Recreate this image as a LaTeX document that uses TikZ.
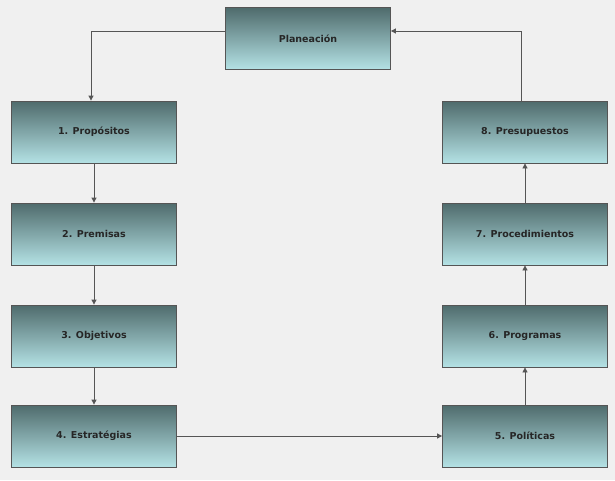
\documentclass[tikz,border=0pt]{standalone}
\usepackage{fontspec}
\setmainfont{DejaVu Sans}
\usetikzlibrary{arrows.meta}
\definecolor{bg}{HTML}{F0F0F0}
\definecolor{topc}{HTML}{4F6B6C}
\definecolor{botc}{HTML}{B4E2E5}
\definecolor{ln}{HTML}{555555}
\begin{document}
\begin{tikzpicture}[x=1pt,y=-1pt,
  box/.style={draw=ln,line width=0.8pt,top color=topc,bottom color=botc,minimum width=165pt,minimum height=62pt,font=\bfseries\fontsize{9.5}{11}\selectfont,text=black!85},
  arr/.style={draw=ln,line width=0.8pt,-{Triangle[length=5pt,width=5pt]}}]
\fill[bg] (0,0) rectangle (615,480);
\node[box] (p) at (308,38.5) {Planeación};
\node[box] (a1) at (94,132) {1. Propósitos};
\node[box] (a2) at (94,234) {2. Premisas};
\node[box] (a3) at (94,336) {3. Objetivos};
\node[box] (a4) at (94,436) {4. Estratégias};
\node[box] (a5) at (525,436) {5. Políticas};
\node[box] (a6) at (525,336) {6. Programas};
\node[box] (a7) at (525,234) {7. Procedimientos};
\node[box] (a8) at (525,132) {8. Presupuestos};
\coordinate (c1) at (91,31);
\coordinate (c2) at (521,31);
\draw[arr] (p.west|-c1) -- (c1) -- (a1.north-|c1);
\draw[arr] (a1) -- (a2);
\draw[arr] (a2) -- (a3);
\draw[arr] (a3) -- (a4);
\draw[arr] (a4) -- (a5);
\draw[arr] (a5) -- (a6);
\draw[arr] (a6) -- (a7);
\draw[arr] (a7) -- (a8);
\draw[arr] (a8.north-|c2) -- (c2) -- (p.east|-c2);
\end{tikzpicture}
\end{document}
